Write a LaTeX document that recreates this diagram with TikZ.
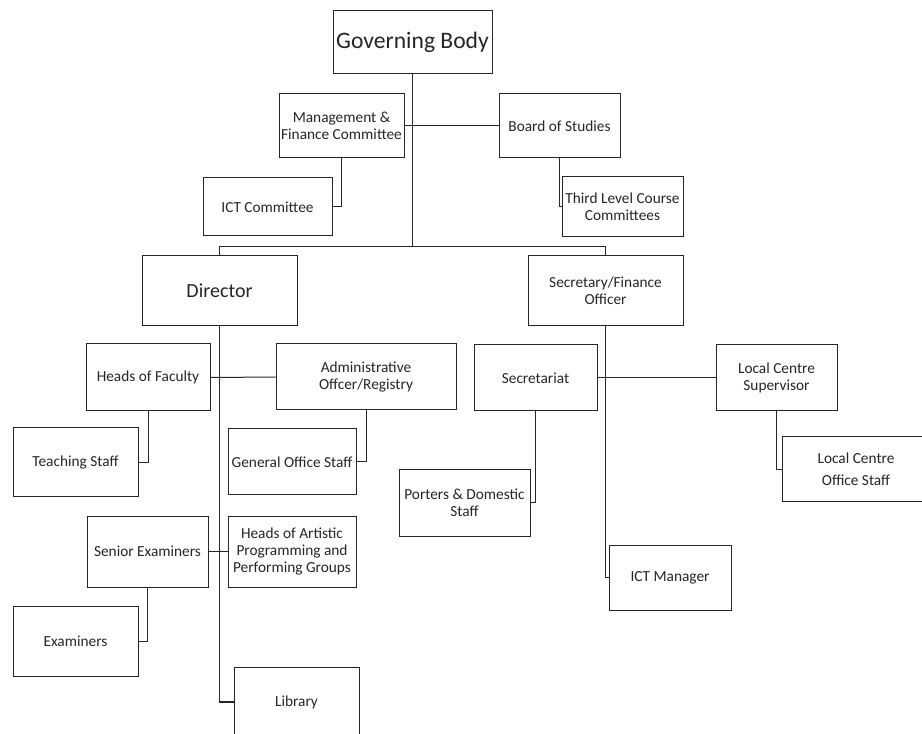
\documentclass[tikz,border=0pt]{standalone}
\usepackage{fontspec}
\setmainfont{Carlito}
\pgfdeclarelayer{edgelayer}
\pgfdeclarelayer{nodelayer}
\pgfsetlayers{edgelayer,nodelayer,main}
\tikzstyle{none}=[inner sep=0pt]
\tikzstyle{post}=[rectangle,fill=white,draw=black!85,line width=0.75pt,inner sep=0pt,align=center,text=black!85,font=\fontsize{11.5}{12.5}\selectfont]
\tikzstyle{link}=[-,draw=black!85,line width=0.75pt]

\begin{document}
\begin{tikzpicture}[x=0.75pt,y=-0.75pt]
	\useasboundingbox (0,0) rectangle (922,734);
	\clip (0,0) rectangle (922,734);
	\begin{pgfonlayer}{nodelayer}
		\node [style=post, minimum width=119.25pt, minimum height=47.25pt, font=\fontsize{17.7}{20}\selectfont] (0) at (412.5, 42.5) {Governing Body};
		\node [style=post, minimum width=93.75pt, minimum height=48pt] (1) at (341.5, 126) {Management \&\\Finance Committee};
		\node [style=post, minimum width=90.75pt, minimum height=48pt] (2) at (559.5, 126) {Board of Studies};
		\node [style=post, minimum width=96.75pt, minimum height=43.5pt] (3) at (267.5, 207) {ICT Committee};
		\node [style=post, minimum width=90.75pt, minimum height=45pt] (4) at (622.5, 207) {Third Level Course\\Committees};
		\node [style=post, minimum width=116.25pt, minimum height=52.5pt, font=\fontsize{15}{17}\selectfont] (5) at (219.5, 291) {Director};
		\node [style=post, minimum width=116.25pt, minimum height=52.5pt] (6) at (605.5, 291) {Secretary/Finance\\Officer};
		\node [style=post, minimum width=93pt, minimum height=50.25pt] (7) at (148, 377.5) {Heads of Faculty};
		\node [style=post, minimum width=135pt, minimum height=49.5pt] (8) at (366, 377) {Administrative\\Offcer/Registry};
		\node [style=post, minimum width=92.25pt, minimum height=49.5pt] (9) at (535.5, 378) {Secretariat};
		\node [style=post, minimum width=90.75pt, minimum height=49.5pt] (10) at (776.5, 378) {Local Centre\\Supervisor};
		\node [style=post, minimum width=93.75pt, minimum height=51.75pt] (11) at (75.5, 462.5) {Teaching Staff};
		\node [style=post, minimum width=96pt, minimum height=49.5pt] (12) at (292, 462) {General Office Staff};
		\node [style=post, minimum width=111pt, minimum height=48.75pt, font=\fontsize{11.5}{16.5}\selectfont] (13) at (856, 469.5) {Local Centre\\Office Staff};
		\node [style=post, minimum width=98.25pt, minimum height=49.5pt] (14) at (464.5, 503) {Porters \& Domestic\\Staff};
		\node [style=post, minimum width=90.75pt, minimum height=53.25pt] (15) at (147.5, 551.5) {Senior Examiners};
		\node [style=post, minimum width=96pt, minimum height=53.25pt] (16) at (292, 551.5) {Heads of Artistic\\Programming and\\Performing Groups};
		\node [style=post, minimum width=91.5pt, minimum height=48.75pt] (17) at (670, 577.5) {ICT Manager};
		\node [style=post, minimum width=93.75pt, minimum height=52.5pt] (18) at (75.5, 641) {Examiners};
		\node [style=post, minimum width=93.75pt, minimum height=52.5pt] (19) at (296.5, 702) {Library};
		\coordinate (20) at (412.5, 247);
	\end{pgfonlayer}
	\begin{pgfonlayer}{edgelayer}
		\draw [style=link] (0) to (20);
		\draw [style=link] (5.north) |- (20);
		\draw [style=link] (6.north) |- (20);
		\draw [style=link] (1.east) to (2.west);
		\draw [style=link] (1.south) |- (3.east);
		\draw [style=link] (2.south) |- (4.west);
		\draw [style=link, line width=1.1pt] (5.south) |- (19.west);
		\draw [style=link] (7.east) to (8.west);
		\draw [style=link] (7.south) |- (11.east);
		\draw [style=link] (8.south) |- (12.east);
		\draw [style=link] (15.east) to (16.west);
		\draw [style=link] (15.south) |- (18.east);
		\draw [style=link] (6.south) |- (17.west);
		\draw [style=link] (9.east) to (10.west);
		\draw [style=link] (9.south) |- (14.east);
		\draw [style=link] (10.south) |- (13.west);
	\end{pgfonlayer}
\end{tikzpicture}
\end{document}
